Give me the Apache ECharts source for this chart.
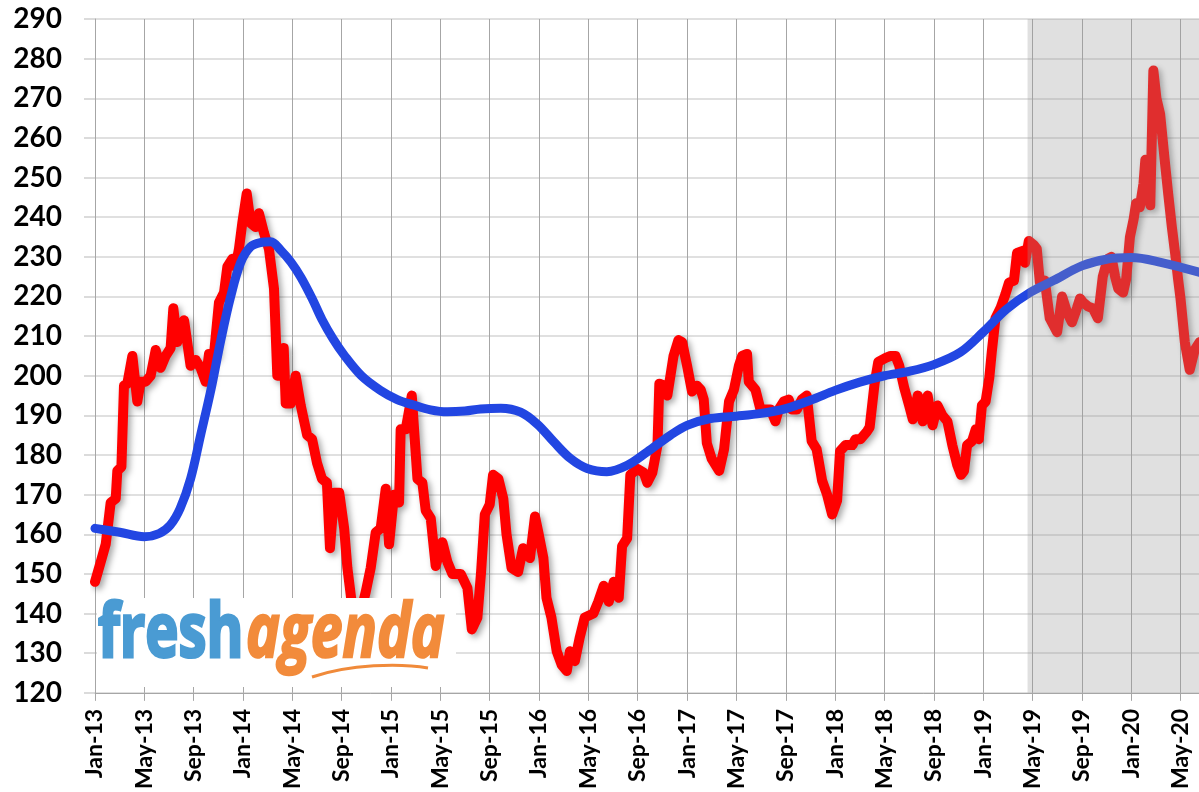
<!DOCTYPE html>
<html lang="en" style="width: 100%;height:100%">
    <head>
        <meta charset="UTF-8">
        <title>Price index</title>
        <script src="https://cdn.jsdelivr.net/npm/echarts@6/dist/echarts.min.js"></script>
    </head>

    <body style="width: 100%;height:100%;margin:0;background:#fff">
        <div id="line" style="width: 1199px;height:792px"></div>
        <script>
            // x = months since Jan-13
            var tickLabels = ['Jan-13', 'May-13', 'Sep-13', 'Jan-14', 'May-14', 'Sep-14', 'Jan-15', 'May-15',
                'Sep-15', 'Jan-16', 'May-16', 'Sep-16', 'Jan-17', 'May-17', 'Sep-17', 'Jan-18', 'May-18',
                'Sep-18', 'Jan-19', 'May-19', 'Sep-19', 'Jan-20', 'May-20'];

            // weekly index (red)
            var indexPoints = [
                [0, 148], [0.46, 153], [0.87, 157.5], [1.27, 168], [1.68, 169], [1.81, 176], [2.14, 177],
                [2.35, 197.5], [2.62, 198], [3.03, 205], [3.43, 193.5], [3.7, 198.5], [4.11, 198.5], [4.51, 200],
                [4.92, 206.5], [5.32, 202], [5.73, 205], [6.13, 207], [6.35, 217], [6.67, 208.5], [7.22, 214],
                [7.75, 202.5], [8.16, 204], [8.56, 202], [8.97, 198.5], [9.24, 205.5], [9.65, 205.5], [10.05, 218.5],
                [10.46, 221], [10.73, 227.5], [11.13, 229.5], [11.4, 227.5], [11.67, 232], [11.94, 238.5], [12.3, 246],
                [12.62, 238.5], [13.02, 237.5], [13.29, 241], [13.7, 236], [14.1, 232], [14.51, 222], [14.78, 200],
                [15.18, 200], [15.3, 207], [15.46, 193], [15.86, 193], [16.27, 200], [16.68, 192.5], [17.2, 185],
                [17.6, 184], [18.0, 178], [18.4, 174], [18.8, 173], [19.05, 156.5], [19.4, 170.5], [19.8, 170.5],
                [20.2, 161.5], [20.46, 151.5], [20.8, 143], [21.2, 139], [21.6, 141], [21.95, 145.5], [22.35, 151.5],
                [22.76, 160.5], [23.16, 161.5], [23.57, 171.5], [23.84, 157.5], [24.24, 170], [24.65, 168],
                [24.78, 186.5], [25.19, 186.5], [25.68, 195], [26.14, 174], [26.54, 173], [26.81, 166], [27.22, 164],
                [27.62, 152], [28.16, 158], [28.57, 153], [28.97, 150], [29.65, 150], [30.19, 146.5], [30.55, 136],
                [31.0, 139], [31.3, 150.5], [31.6, 165], [32.0, 167.5], [32.27, 175], [32.7, 174], [33.1, 169],
                [33.36, 160], [33.77, 151.5], [34.3, 150.5], [34.7, 156.5], [35.26, 154], [35.67, 164.5],
                [35.94, 160.5], [36.35, 154], [36.6, 144], [37.0, 139], [37.43, 130.5], [37.84, 127], [38.25, 125.5],
                [38.5, 130.5], [38.9, 128], [39.3, 134], [39.7, 139], [40.4, 140], [40.8, 143], [41.24, 147],
                [41.65, 143], [42.05, 148], [42.46, 144], [42.73, 157], [43.14, 159], [43.4, 175], [43.96, 176.5],
                [44.5, 175.5], [44.77, 173], [45.18, 175.5], [45.6, 182.5], [45.75, 198], [46.13, 197.5], [46.4, 195],
                [46.65, 200], [46.9, 205], [47.3, 209], [47.6, 208.5], [48.0, 202.5], [48.4, 196], [48.8, 197.5],
                [49.1, 196.5], [49.35, 194], [49.6, 183], [50.0, 179], [50.6, 176], [51.0, 181.5], [51.4, 193.5],
                [51.8, 196.5], [52.2, 202.5], [52.46, 205], [52.86, 205.5], [53.0, 198.5], [53.54, 196.5],
                [53.95, 191.5], [54.35, 191.5], [54.76, 191.5], [55.16, 188.5], [55.43, 191.5], [55.84, 193.5],
                [56.24, 194], [56.5, 191.5], [56.9, 191.5], [57.3, 194], [57.7, 195], [58.1, 183.5], [58.5, 181.5],
                [58.95, 173.5], [59.35, 170], [59.76, 165], [60.16, 168.5], [60.4, 181], [60.84, 182.5], [61.4, 182.5],
                [61.65, 184], [62.05, 184], [62.6, 186], [62.8, 187], [63.2, 198], [63.5, 203.5], [64.1, 204.5],
                [64.5, 205], [64.9, 205], [65.2, 202.5], [65.6, 197], [66.0, 192.5], [66.3, 189], [66.7, 195],
                [67.1, 188.5], [67.5, 195], [67.9, 187.5], [68.3, 192.5], [68.7, 190], [69.1, 188.5], [69.5, 182.5],
                [69.9, 177.5], [70.2, 175], [70.45, 176], [70.7, 182.5], [71.1, 183.5], [71.4, 186.5], [71.65, 184],
                [71.9, 192.5], [72.2, 193.5], [72.5, 199.5], [72.7, 206], [73.0, 214.5], [73.4, 217], [73.8, 220.5],
                [74.1, 223.5], [74.5, 224], [74.75, 231], [75.2, 231.5], [75.4, 228.5], [75.7, 234], [76.1, 233],
                [76.35, 232], [76.6, 223.5], [77.0, 224], [77.4, 214.5], [78.0, 211], [78.4, 220], [78.8, 216],
                [79.2, 213.5], [79.6, 217], [79.85, 219.5], [80.1, 218.5], [80.5, 217.5], [80.9, 217], [81.3, 214.5],
                [81.7, 225], [82.1, 229.5], [82.4, 230], [82.7, 225], [82.95, 222], [83.35, 221], [83.6, 224.5],
                [83.9, 235], [84.2, 239.5], [84.4, 243.5], [84.7, 242.5], [85.0, 248.5], [85.15, 254.5], [85.4, 247],
                [85.55, 243], [85.8, 277], [86.05, 270], [86.35, 266], [86.7, 255], [87.0, 246], [87.3, 237.5],
                [87.6, 230], [87.8, 224.5], [88.0, 219.5], [88.35, 208.5], [88.75, 201.5], [89.15, 206.5], [89.55, 208.5]
            ];

            // smoothed trend (blue)
            var trendPoints = [
                [0, 161.5], [2, 160.5], [4, 159.4], [5.2, 160.2], [6.1, 162.3], [6.9, 166.5], [7.75, 174],
                [8.56, 185], [9.4, 196.5], [10.2, 209], [11, 220], [11.8, 228.5], [12.6, 232.5], [13.4, 233.6],
                [14.25, 233.8], [15.1, 231.5], [15.9, 228.6], [16.7, 224.8], [17.6, 219.5], [18.4, 214.2],
                [19.3, 209.3], [20.2, 205.2], [21.6, 200], [23.15, 196.3], [24.5, 194], [25.85, 192.6],
                [27.2, 191.4], [28.56, 190.9], [30, 191.1], [31.26, 191.6], [32.9, 191.8], [34.5, 190.8],
                [35.85, 187.8], [37.2, 183.3], [38.55, 179.1], [39.9, 176.6], [41.5, 175.8], [43.15, 177.4],
                [44.77, 180.8], [46.65, 185], [48, 187.5], [49.9, 189.2], [52, 189.8], [54, 190.5], [56, 191.7],
                [58, 193.8], [60, 196.3], [62, 198.4], [64, 200], [66, 201.1], [68, 202.8], [70.15, 205.9],
                [72, 211], [73.9, 216.8], [75.8, 221], [77.7, 224], [80, 227.7], [82, 229.4], [84, 229.8],
                [86.4, 228.6], [89.5, 226.1]
            ];

            var forecastStart = 75.6;
            var xMax = 89.5;

            const myChart = echarts.init(document.getElementById('line'));

            const option = {
                animation: false,
                grid: { left: 95, right: 0, top: 19, bottom: 97 },
                xAxis: {
                    type: 'value',
                    min: 0,
                    max: xMax,
                    interval: 4,
                    axisLine: { lineStyle: { color: '#a6a6a6', width: 1 } },
                    axisTick: { show: true, length: 8, lineStyle: { color: '#a6a6a6' } },
                    axisLabel: {
                        rotate: 90,
                        margin: 16,
                        showMaxLabel: false,
                        color: '#000',
                        fontFamily: 'Lato',
                        fontWeight: 'bold',
                        fontSize: 23,
                        formatter: function (v) {
                            return v % 4 === 0 ? (tickLabels[v / 4] || '') : '';
                        }
                    },
                    splitLine: { show: true, lineStyle: { color: '#a6a6a6', width: 1 } }
                },
                yAxis: {
                    type: 'value',
                    min: 120,
                    max: 290,
                    interval: 10,
                    axisLine: { show: true, lineStyle: { color: '#a6a6a6', width: 1 } },
                    axisTick: { show: true, length: 11, lineStyle: { color: '#d0d0d0', width: 1.5 } },
                    axisLabel: {
                        margin: 33,
                        color: '#000',
                        fontFamily: 'Lato',
                        fontWeight: 'bold',
                        fontSize: 28
                    },
                    splitLine: { lineStyle: { color: '#d6d6d6', width: 1.5 } }
                },
                series: [
                    {
                        type: 'line',
                        data: indexPoints,
                        showSymbol: false,
                        z: 2,
                        lineStyle: {
                            color: '#ff0000',
                            width: 10,
                            cap: 'round',
                            join: 'round',
                            shadowColor: 'rgba(0,0,0,0.35)',
                            shadowBlur: 6,
                            shadowOffsetX: 3,
                            shadowOffsetY: 3
                        }
                    },
                    {
                        type: 'line',
                        data: trendPoints,
                        smooth: 0.35,
                        showSymbol: false,
                        z: 3,
                        lineStyle: { color: '#2246e2', width: 9, cap: 'round' }
                    },
                    {
                        type: 'line',
                        data: [],
                        z: 10,
                        markArea: {
                            silent: true,
                            z: 10,
                            itemStyle: { color: 'rgba(152,152,152,0.3)' },
                            data: [[{ xAxis: forecastStart }, { xAxis: xMax }]]
                        }
                    }
                ],
                graphic: [
                    {
                        type: 'rect',
                        z: 100,
                        shape: { x: 97, y: 598, width: 359, height: 89 },
                        style: { fill: '#ffffff' }
                    },
                    {
                        type: 'text',
                        z: 101,
                        x: 98,
                        y: 636,
                        scaleX: 0.75,
                        style: {
                            text: 'fresh',
                            font: 'bold 75px "Open Sans"',
                            fill: '#4a9bd3',
                            stroke: '#4a9bd3',
                            lineWidth: 3,
                            verticalAlign: 'middle'
                        }
                    },
                    {
                        type: 'text',
                        z: 101,
                        x: 246,
                        y: 636,
                        scaleX: 0.76,
                        style: {
                            text: 'agenda',
                            font: 'italic bold 75px "Open Sans"',
                            fill: '#f28b3b',
                            stroke: '#f28b3b',
                            lineWidth: 2.5,
                            verticalAlign: 'middle'
                        }
                    },
                    {
                        type: 'bezierCurve',
                        z: 101,
                        shape: { x1: 312, y1: 677, x2: 428, y2: 668, cpx1: 350, cpy1: 664, cpx2: 400, cpy2: 663 },
                        style: { stroke: '#f08a3a', lineWidth: 3, fill: 'none' }
                    }
                ]
            };

            myChart.setOption(option);
        </script>
    </body>
</html>
